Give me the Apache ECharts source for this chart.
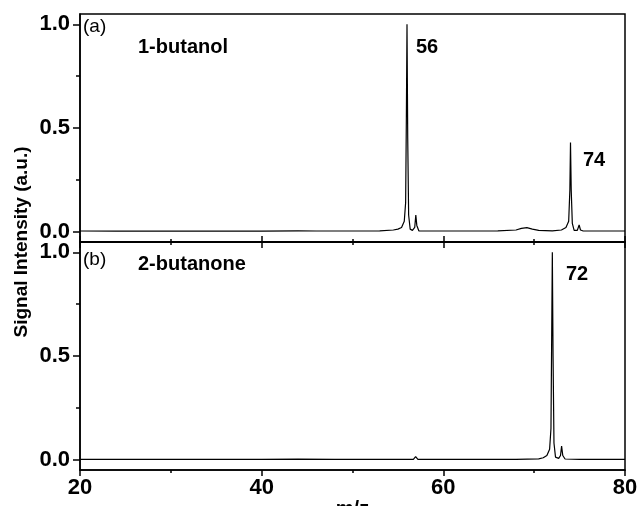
<!DOCTYPE html>
<html>
<head>
<meta charset="utf-8">
<title>Mass spectra</title>
<script src="https://cdn.jsdelivr.net/npm/echarts@6/dist/echarts.min.js"></script>
<style>
    html, body { margin: 0; padding: 0; background: #fff; }
    #chart { width: 638px; height: 506px; }
</style>
</head>
<body>
<div id="chart"></div>
<script>
// 数据：m/z 与信号强度
const mzButanol = [20, 24, 28, 32, 36, 40, 44, 46, 50, 53, 54.5, 55.0, 55.4, 55.7, 55.85, 55.93, 56.0, 56.08, 56.18, 56.35, 56.6, 56.85, 56.97, 57.08, 57.3, 58, 62, 66, 68, 68.6, 69.2, 69.8, 70.5, 72, 73.0, 73.5, 73.8, 73.93, 74.0, 74.08, 74.2, 74.4, 74.75, 74.95, 75.1, 75.4, 77, 80];
const intButanol = [0.003, 0.002, 0.003, 0.002, 0.003, 0.002, 0.004, 0.003, 0.003, 0.004, 0.008, 0.012, 0.02, 0.05, 0.14, 0.55, 1.0, 0.45, 0.08, 0.012, 0.006, 0.02, 0.08, 0.03, 0.004, 0.003, 0.003, 0.004, 0.008, 0.016, 0.019, 0.012, 0.006, 0.004, 0.008, 0.02, 0.05, 0.2, 0.43, 0.2, 0.04, 0.006, 0.006, 0.032, 0.008, 0.003, 0.003, 0.003];

const mzButanone = [20, 24, 28, 32, 36, 40, 44, 48, 52, 56.7, 56.95, 57.2, 60, 64, 68, 70.5, 71.0, 71.4, 71.7, 71.85, 71.93, 72.0, 72.08, 72.18, 72.35, 72.7, 72.9, 73.02, 73.15, 73.4, 75, 78, 80];
const intButanone = [0.001, 0.001, 0.001, 0.001, 0.001, 0.001, 0.002, 0.001, 0.001, 0.001, 0.015, 0.001, 0.001, 0.001, 0.001, 0.004, 0.009, 0.02, 0.05, 0.15, 0.6, 1.0, 0.5, 0.08, 0.012, 0.006, 0.02, 0.065, 0.02, 0.003, 0.001, 0.001, 0.001];

// 刻度
const xMin = 20;
const xMax = 80;
const yMajorTicks = [0, 0.5, 1.0];
const yMinorTicks = [0.25, 0.75];

// 文字标注
const panelTags = ['(a)', '(b)'];
const compounds = ['1-butanol', '2-butanone'];
const peakLabels = ['56', '74', '72'];

document.addEventListener('DOMContentLoaded', () => {
    const chart = echarts.init(document.getElementById('chart'));
    const font = 'Arial, "Liberation Sans", sans-serif';
    const zip = (xs, ys) => xs.map((x, i) => [x, ys[i]]);

    // 上下两个面板的位置（固定像素，不让标签挤压绘图区）
    const grids = [
        { left: 80, top: 14, width: 545, height: 228 },
        { left: 80, top: 242, width: 545, height: 228 }
    ].map(g => Object.assign(g, {
        show: true, borderColor: '#000', borderWidth: 1.5,
        containLabel: false, outerBoundsMode: 'none'
    }));

    const lineAx = { show: true, onZero: false, lineStyle: { color: '#000', width: 1.5 } };

    const makeX = (gridIndex, position, inside, showLabel) => ({
        type: 'value', gridIndex, position, min: xMin, max: xMax, interval: 20,
        axisLine: lineAx,
        axisTick: { show: true, inside, length: 6, lineStyle: { color: '#000', width: 1.5 } },
        minorTick: { show: true, splitNumber: 2, length: 3, lineStyle: { color: '#000', width: 1.5 } },
        axisLabel: { show: showLabel, color: '#000', fontFamily: font, fontWeight: 'bold', fontSize: 22, margin: 7 },
        splitLine: { show: false },
        minorSplitLine: { show: false }
    });

    const makeYMajor = gridIndex => ({
        type: 'value', gridIndex, position: 'left', min: -0.05, max: 1.05,
        axisLine: lineAx,
        axisTick: { show: true, length: 7, customValues: yMajorTicks, lineStyle: { color: '#000', width: 1.5 } },
        axisLabel: {
            show: true, customValues: yMajorTicks, formatter: v => v.toFixed(1),
            color: '#000', fontFamily: font, fontWeight: 'bold', fontSize: 22, margin: 10
        },
        splitLine: { show: false }
    });

    const makeYMinor = gridIndex => ({
        type: 'value', gridIndex, position: 'left', min: -0.05, max: 1.05,
        axisLine: { show: false, onZero: false },
        axisTick: { show: true, length: 4, customValues: yMinorTicks, lineStyle: { color: '#000', width: 1.5 } },
        axisLabel: { show: false },
        splitLine: { show: false }
    });

    const xBottom = makeX(1, 'bottom', false, true);
    xBottom.name = 'm/z';
    xBottom.nameLocation = 'middle';
    xBottom.nameGap = 28;
    xBottom.nameTextStyle = { color: '#000', fontFamily: font, fontWeight: 'bold', fontSize: 20 };

    const textStyle = (size, weight) => ({ fill: '#000', font: `${weight} ${size}px ${font}` });

    const option = {
        animation: false,
        backgroundColor: '#fff',
        grid: grids,
        xAxis: [
            makeX(0, 'bottom', true, false),
            xBottom,
            makeX(1, 'top', true, false)
        ],
        yAxis: [makeYMajor(0), makeYMinor(0), makeYMajor(1), makeYMinor(1)],
        series: [
            {
                type: 'line', xAxisIndex: 0, yAxisIndex: 0, data: zip(mzButanol, intButanol),
                showSymbol: false, lineStyle: { color: '#000', width: 1.2 }
            },
            {
                type: 'line', xAxisIndex: 1, yAxisIndex: 2, data: zip(mzButanone, intButanone),
                showSymbol: false, lineStyle: { color: '#000', width: 1.2 }
            }
        ],
        graphic: [
            { type: 'text', left: 83, top: 17, style: Object.assign({ text: panelTags[0] }, textStyle(19, 'normal')) },
            { type: 'text', left: 138, top: 37, style: Object.assign({ text: compounds[0] }, textStyle(20, 'bold')) },
            { type: 'text', left: 416, top: 37, style: Object.assign({ text: peakLabels[0] }, textStyle(20, 'bold')) },
            { type: 'text', left: 583, top: 150, style: Object.assign({ text: peakLabels[1] }, textStyle(20, 'bold')) },
            { type: 'text', left: 83, top: 250, style: Object.assign({ text: panelTags[1] }, textStyle(19, 'normal')) },
            { type: 'text', left: 138, top: 254, style: Object.assign({ text: compounds[1] }, textStyle(20, 'bold')) },
            { type: 'text', left: 566, top: 264, style: Object.assign({ text: peakLabels[2] }, textStyle(20, 'bold')) },
            {
                type: 'text', x: 22, y: 242, rotation: Math.PI / 2,
                style: Object.assign({ text: 'Signal Intensity (a.u.)', align: 'center', verticalAlign: 'middle' }, textStyle(19, 'bold'))
            }
        ]
    };

    chart.setOption(option);
});
</script>
</body>
</html>
